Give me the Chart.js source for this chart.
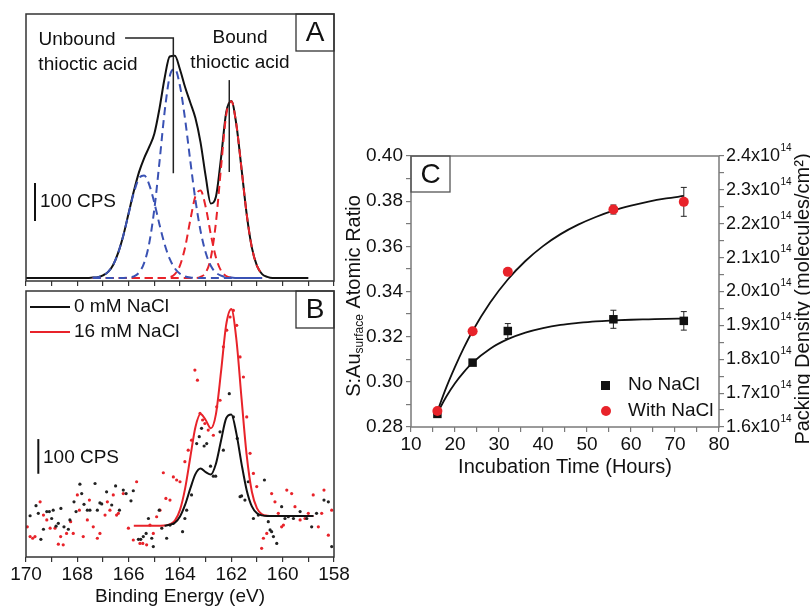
<!DOCTYPE html>
<html>
<head>
<meta charset="utf-8">
<script src="https://cdn.jsdelivr.net/npm/chart.js@4/dist/chart.umd.min.js"></script>
<style>
  html, body { margin: 0; padding: 0; background: #fff; }
  #wrap { position: relative; width: 810px; height: 606px; overflow: hidden; }
  canvas { position: absolute; }
</style>
</head>
<body>
<div id="wrap">
  <canvas id="chart-a" width="345" height="290" style="left:0px;top:0px"></canvas>
  <canvas id="chart-b" width="360" height="322" style="left:0px;top:284px"></canvas>
  <canvas id="chart-c" width="470" height="370" style="left:340px;top:120px"></canvas>
</div>
<script>
// ---- Panel A: S 2p fit components (CPS vs binding energy, eV)
const gridA = [170, 167.8, 167.6, 167.4, 167.2, 167.0, 166.8, 166.6, 166.4, 166.2, 166.0, 165.8, 165.6, 165.4, 165.2, 165.0, 164.8, 164.6, 164.4, 164.2, 164.0, 163.8, 163.6, 163.4, 163.2, 163.0, 162.8, 162.6, 162.4, 162.2, 162.0, 161.8, 161.6, 161.4, 161.2, 161.0, 160.8, 160.6, 160.4, 159.0];
const envelopeA = [0, 0, 0, 1, 2, 7, 16, 35, 68, 114, 171, 228, 278, 315, 345, 380, 446, 526, 583, 585, 549, 502, 462, 421, 357, 268, 196, 214, 317, 436, 466, 402, 286, 167, 80, 32, 10, 3, 0, 0];
const unbound1A = [null, null, null, 1, 2, 7, 16, 35, 68, 114, 170, 224, 262, 270, 246, 198, 141, 89, 50, 25, 11, 4, 1, 0, 0, 0, 0, 0, 0, 0, 0, 0, 0, 0, 0, 0, 0, null, null, null];
const unbound2A = [null, null, null, 0, 0, 0, 0, 0, 0, 0, 1, 4, 14, 39, 91, 181, 305, 437, 531, 550, 505, 417, 309, 206, 124, 67, 32, 14, 6, 2, 1, 0, 0, 0, 0, 0, 0, null, null, null];
const bound1A = [null, null, null, 0, 0, 0, 0, 0, 0, 0, 0, 0, 0, 0, 0, 0, 0, 0, 2, 10, 33, 81, 152, 215, 230, 187, 115, 54, 19, 5, 1, 0, 0, 0, 0, 0, 0, null, null, null];
const bound2A = [null, null, null, 0, 0, 0, 0, 0, 0, 0, 0, 0, 0, 0, 0, 0, 0, 0, 0, 0, 0, 0, 0, 0, 3, 14, 53, 146, 292, 429, 465, 402, 286, 167, 80, 32, 10, null, null, null];
const unboundLeaderX = [166.14, 164.26, 164.26];
const unboundLeaderY = [632, 632, 276];
const boundLeaderX = [162.08, 162.08];
const boundLeaderY = [521, 279];
const scaleBarAX = [169.65, 169.65];
const scaleBarAY = [150, 250];

// ---- Panel B: raw points and fits
const fitGridB = [165.8, 165.4, 165.0, 164.6, 164.4, 164.2, 164.0, 163.8, 163.6, 163.4, 163.2, 163.0, 162.8, 162.6, 162.4, 162.2, 162.0, 161.8, 161.6, 161.4, 161.2, 161.0, 160.8, 160.6, 160.4, 158.8];
const fit16mM = [90, 90, 90, 91, 94, 105, 136, 198, 287, 374, 412, 395, 371, 412, 535, 670, 715, 625, 455, 292, 188, 140, 123, 119, 118, 118];
const fit0mM = [null, null, null, 90, 93, 99, 117, 151, 197, 239, 255, 245, 238, 269, 336, 400, 411, 355, 268, 192, 146, 126, 120, 118, 118, 118];
const raw0mMX = [169.84, 169.61, 169.52, 169.42, 169.32, 169.19, 169.09, 169.00, 168.94, 168.83, 168.74, 168.64, 168.52, 168.35, 168.29, 168.13, 168.05, 167.90, 167.83, 167.74, 167.61, 167.51, 167.31, 167.22, 167.12, 167.05, 166.86, 166.66, 166.51, 166.36, 166.21, 166.10, 165.91, 165.82, 165.62, 165.53, 165.43, 165.32, 165.23, 165.10, 165.04, 164.81, 164.71, 164.52, 164.39, 164.26, 163.90, 163.81, 163.74, 163.55, 163.35, 163.25, 163.16, 163.06, 162.96, 162.81, 162.70, 162.61, 162.44, 162.31, 162.08, 161.92, 161.77, 161.66, 161.60, 161.47, 161.34, 161.14, 160.95, 160.71, 160.56, 160.49, 160.43, 160.36, 160.23, 160.04, 159.91, 159.78, 159.58, 159.32, 159.06, 158.87, 158.68, 158.39, 158.22, 158.09];
const raw0mMY = [119, 148, 126, 51, 80, 131, 131, 111, 135, 89, 97, 140, 87, 80, 107, 159, 131, 210, 183, 152, 135, 135, 212, 135, 156, 153, 188, 150, 205, 135, 193, 183, 162, 191, 51, 51, 59, 68, 111, 54, 30, 135, 83, 54, 92, 97, 73, 111, 135, 179, 327, 347, 371, 320, 327, 262, 233, 233, 361, 308, 471, 404, 342, 174, 176, 164, 217, 111, 121, 222, 102, 78, 73, 59, 39, 145, 111, 116, 111, 131, 111, 87, 126, 164, 159, 30];
const raw16mMX = [169.95, 169.84, 169.74, 169.65, 169.45, 169.32, 169.19, 169.06, 168.87, 168.74, 168.65, 168.55, 168.42, 168.26, 168.16, 168.00, 167.92, 167.77, 167.61, 167.53, 167.38, 167.22, 167.12, 166.92, 166.83, 166.73, 166.60, 166.47, 166.40, 166.21, 166.01, 165.82, 165.69, 165.56, 165.45, 165.30, 165.17, 165.04, 164.91, 164.78, 164.65, 164.55, 164.39, 164.26, 164.13, 164.00, 163.81, 163.68, 163.55, 163.42, 163.32, 163.22, 163.12, 163.03, 162.90, 162.70, 162.57, 162.44, 162.31, 162.18, 162.05, 161.92, 161.79, 161.66, 161.53, 161.40, 161.27, 161.14, 161.01, 160.82, 160.75, 160.62, 160.43, 160.30, 160.17, 160.04, 159.97, 159.84, 159.65, 159.52, 159.32, 159.13, 159.00, 158.81, 158.61, 158.48, 158.39, 158.22, 158.09];
const raw16mMY = [87, 59, 54, 59, 159, 121, 107, 83, 83, 37, 59, 35, 68, 102, 68, 179, 135, 59, 107, 164, 87, 54, 68, 121, 159, 135, 179, 121, 126, 183, 83, 49, 217, 39, 39, 35, 92, 68, 116, 135, 243, 169, 164, 231, 222, 217, 275, 308, 337, 539, 510, 414, 395, 385, 366, 351, 433, 452, 606, 654, 692, 711, 668, 577, 519, 404, 299, 241, 203, 25, 54, 68, 183, 159, 126, 87, 92, 193, 183, 145, 107, 111, 126, 179, 87, 126, 193, 63, 135];
const scaleBarBX = [169.52, 169.52];
const scaleBarBY = [240, 340];

// ---- Panel C: S:Au ratio vs incubation time
const timeC = [16, 24, 32, 56, 72];
const noNaCl = [0.2858, 0.3085, 0.3225, 0.3277, 0.3270];
const noNaClErr = [0.0005, 0.001, 0.0033, 0.004, 0.0041];
const withNaCl = [0.2871, 0.3224, 0.3487, 0.3763, 0.3797];
const withNaClErr = [0.0005, 0.0008, 0.0015, 0.002, 0.0064];
const fitTime = [16, 18, 20, 22, 24, 28, 32, 36, 40, 44, 48, 52, 56, 60, 64, 68, 72];
const fitNoNaCl = [0.2862, 0.2934, 0.2994, 0.3043, 0.3085, 0.3147, 0.3189, 0.3218, 0.3238, 0.3252, 0.3261, 0.3268, 0.3272, 0.3275, 0.3277, 0.3279, 0.3280];
const fitWithNaCl = [0.2870, 0.2974, 0.3066, 0.3150, 0.3225, 0.3351, 0.3453, 0.3535, 0.3601, 0.3654, 0.3696, 0.3730, 0.3758, 0.3780, 0.3798, 0.3812, 0.3823];

const FONT = "'Liberation Sans', Arial, Helvetica, sans-serif";
const RED = '#e8232a';
const BLUE = '#3a52b4';
const INK = '#111';
const AXIS_AB = '#333';
const AXIS_C = '#7a7a7a';

Chart.defaults.font.family = FONT;
Chart.defaults.color = INK;

const toXY = (xs, ys) => xs.map((x, i) => ({ x, y: ys[i] }));

function text(ctx, str, x, y, size, align) {
  ctx.font = size + 'px ' + FONT;
  ctx.textAlign = align || 'left';
  ctx.textBaseline = 'middle';
  ctx.fillStyle = INK;
  ctx.fillText(str, x, y);
}

function boxLabel(ctx, str, x, y, w, h, color) {
  ctx.strokeStyle = color;
  ctx.lineWidth = 1.3;
  ctx.strokeRect(x, y, w, h);
  text(ctx, str, x + w / 2, y + h / 2 + 1, 28, 'center');
}

function frame(chart, color) {
  const ca = chart.chartArea;
  const ctx = chart.ctx;
  ctx.strokeStyle = color;
  ctx.lineWidth = 1.5;
  ctx.strokeRect(ca.left, ca.top, ca.right - ca.left, ca.bottom - ca.top);
}

function baseOptions(padding) {
  return {
    responsive: false,
    animation: false,
    events: [],
    layout: { autoPadding: false, padding },
    plugins: { legend: { display: false }, tooltip: { enabled: false } },
    elements: {
      point: { radius: 0 },
      line: { borderWidth: 2, cubicInterpolationMode: 'monotone' }
    }
  };
}

// ---------------- Panel A
const panelA = {
  id: 'panelA',
  afterDraw(chart) {
    const ctx = chart.ctx;
    ctx.save();
    frame(chart, AXIS_AB);
    boxLabel(ctx, 'A', 296, 14, 38, 37, AXIS_AB);
    text(ctx, 'Unbound', 77, 40, 19, 'center');
    text(ctx, 'thioctic acid', 88, 65, 19, 'center');
    text(ctx, 'Bound', 240, 38, 19, 'center');
    text(ctx, 'thioctic acid', 240, 63, 19, 'center');
    text(ctx, '100 CPS', 40, 202, 19, 'left');
    ctx.restore();
  }
};

const optsA = baseOptions({ left: 26, top: 14, right: 11, bottom: 0 });
optsA.scales = {
  x: {
    type: 'linear', reverse: true, min: 158, max: 170,
    afterFit: s => { s.height = 9; },
    ticks: { display: false, stepSize: 1, autoSkip: false },
    grid: { drawOnChartArea: false, tickLength: 5, color: AXIS_AB, lineWidth: 1.2 },
    border: { display: false }
  },
  y: { display: false, min: -8, max: 695 }
};

new Chart(document.getElementById('chart-a'), {
  type: 'line',
  data: {
    datasets: [
      { data: toXY(gridA, unbound1A), borderColor: BLUE, borderDash: [8, 5], order: 1 },
      { data: toXY(gridA, unbound2A), borderColor: BLUE, borderDash: [8, 5], order: 1 },
      { data: toXY(gridA, bound1A), borderColor: RED, borderDash: [8, 5], order: 1 },
      { data: toXY(gridA, bound2A), borderColor: RED, borderDash: [8, 5], order: 1 },
      { data: toXY(gridA, envelopeA), borderColor: INK, order: 2 },
      { data: toXY(unboundLeaderX, unboundLeaderY), borderColor: '#222', borderWidth: 1.5, tension: 0, order: 0 },
      { data: toXY(boundLeaderX, boundLeaderY), borderColor: '#222', borderWidth: 1.5, tension: 0, order: 0 },
      { data: toXY(scaleBarAX, scaleBarAY), borderColor: INK, borderWidth: 2, tension: 0, order: 0 }
    ]
  },
  options: optsA,
  plugins: [panelA]
});

// ---------------- Panel B
const panelB = {
  id: 'panelB',
  afterDraw(chart) {
    const ctx = chart.ctx;
    ctx.save();
    frame(chart, AXIS_AB);
    boxLabel(ctx, 'B', 296, 7, 38, 37, AXIS_AB);
    ctx.lineWidth = 2;
    ctx.strokeStyle = INK;
    ctx.beginPath(); ctx.moveTo(30, 23); ctx.lineTo(70, 23); ctx.stroke();
    ctx.strokeStyle = RED;
    ctx.beginPath(); ctx.moveTo(30, 48); ctx.lineTo(70, 48); ctx.stroke();
    text(ctx, '0 mM NaCl', 74, 23, 19, 'left');
    text(ctx, '16 mM NaCl', 74, 48, 19, 'left');
    text(ctx, '100 CPS', 43, 174, 19, 'left');
    ctx.restore();
  }
};

const optsB = baseOptions({ left: 26, top: 7, right: 26, bottom: 0 });
optsB.scales = {
  x: {
    type: 'linear', reverse: true, min: 158, max: 170,
    afterFit: s => { s.height = 49; },
    ticks: {
      stepSize: 1, autoSkip: false, maxRotation: 0, padding: 1,
      font: { size: 19 }, color: INK,
      callback: v => (Math.round(v) % 2 === 0 ? String(Math.round(v)) : '')
    },
    grid: { drawOnChartArea: false, tickLength: 5, color: AXIS_AB, lineWidth: 1.2 },
    border: { display: false },
    title: { display: true, text: 'Binding Energy (eV)', font: { size: 19, lineHeight: 1 }, padding: 0, color: INK }
  },
  y: { display: false, min: 0, max: 767 }
};

new Chart(document.getElementById('chart-b'), {
  type: 'line',
  data: {
    datasets: [
      { data: toXY(raw0mMX, raw0mMY), showLine: false, pointRadius: 1.6, pointBackgroundColor: '#222', pointBorderWidth: 0, order: 3 },
      { data: toXY(raw16mMX, raw16mMY), showLine: false, pointRadius: 1.6, pointBackgroundColor: RED, pointBorderWidth: 0, order: 3 },
      { data: toXY(fitGridB, fit16mM), borderColor: RED, order: 2 },
      { data: toXY(fitGridB, fit0mM), borderColor: INK, order: 1 },
      { data: toXY(scaleBarBX, scaleBarBY), borderColor: INK, borderWidth: 2, tension: 0, order: 0 }
    ]
  },
  options: optsB,
  plugins: [panelB]
});

// ---------------- Panel C
const RIGHT_LABEL = 18;

const panelC = {
  id: 'panelC',
  beforeDatasetsDraw(chart) {
    const { ctx, scales } = chart;
    const x = scales.x, y = scales.y;
    ctx.save();
    ctx.strokeStyle = '#222';
    ctx.lineWidth = 1;
    const bars = (vals, errs) => vals.forEach((v, i) => {
      const px = x.getPixelForValue(timeC[i]);
      const top = y.getPixelForValue(v + errs[i]);
      const bot = y.getPixelForValue(v - errs[i]);
      ctx.beginPath();
      ctx.moveTo(px, top); ctx.lineTo(px, bot);
      ctx.moveTo(px - 3, top); ctx.lineTo(px + 3, top);
      ctx.moveTo(px - 3, bot); ctx.lineTo(px + 3, bot);
      ctx.stroke();
    });
    bars(noNaCl, noNaClErr);
    bars(withNaCl, withNaClErr);
    ctx.restore();
  },
  afterDraw(chart) {
    const { ctx, scales } = chart;
    ctx.save();
    frame(chart, AXIS_C);
    const ca = chart.chartArea;
    boxLabel(ctx, 'C', ca.left, ca.top, 39, 36, '#555');

    // legend
    ctx.fillStyle = INK;
    ctx.fillRect(261, 261, 9, 9);
    ctx.fillStyle = RED;
    ctx.beginPath(); ctx.arc(266, 291, 5, 0, Math.PI * 2); ctx.fill();
    text(ctx, 'No NaCl', 288, 265, 19, 'left');
    text(ctx, 'With NaCl', 288, 291, 19, 'left');

    // exponents on the right axis labels
    const y2 = scales.y2;
    y2.ticks.forEach(t => {
      const lbl = y2.options.ticks.callback(t.value);
      if (!lbl) return;
      ctx.font = RIGHT_LABEL + 'px ' + FONT;
      const w = ctx.measureText(lbl).width;
      const py = y2.getPixelForValue(t.value);
      text(ctx, '14', y2.left + 7 + w + 0.5, py - 8, 10, 'left');
    });

    // left title with subscript
    ctx.save();
    ctx.translate(14, 176);
    ctx.rotate(-Math.PI / 2);
    ctx.font = '20px ' + FONT;
    const w1 = ctx.measureText('S:Au').width;
    const w3 = ctx.measureText(' Atomic Ratio').width;
    ctx.font = '12px ' + FONT;
    const w2 = ctx.measureText('surface').width;
    const sx = -(w1 + w2 + w3) / 2;
    text(ctx, 'S:Au', sx, 0, 20, 'left');
    text(ctx, 'surface', sx + w1, 6, 12, 'left');
    text(ctx, ' Atomic Ratio', sx + w1 + w2, 0, 20, 'left');
    ctx.restore();

    // right title
    ctx.save();
    ctx.translate(463, 179);
    ctx.rotate(-Math.PI / 2);
    text(ctx, 'Packing Density (molecules/cm\u00B2)', 0, 0, 20, 'center');
    ctx.restore();
    ctx.restore();
  }
};

const optsC = baseOptions({ left: 0, top: 36, right: 0, bottom: 0 });
optsC.scales = {
  x: {
    type: 'linear', min: 10, max: 80,
    afterFit: s => { s.height = 63; },
    ticks: {
      stepSize: 5, autoSkip: false, maxRotation: 0, padding: 1,
      font: { size: 19 }, color: INK,
      callback: v => (Math.round(v) % 10 === 0 ? String(Math.round(v)) : '')
    },
    grid: { drawOnChartArea: false, tickLength: 5, color: AXIS_C, lineWidth: 1.2 },
    border: { display: false },
    title: { display: true, text: 'Incubation Time (Hours)', font: { size: 20, lineHeight: 1.2 }, padding: { top: 0, bottom: 11 }, color: INK }
  },
  y: {
    position: 'left', min: 0.28, max: 0.40,
    afterFit: s => { s.width = 71; },
    ticks: {
      stepSize: 0.01, autoSkip: false, padding: 3,
      font: { size: 19 }, color: INK,
      callback: v => (Math.round(v * 100) % 2 === 0 ? v.toFixed(2) : '')
    },
    grid: { drawOnChartArea: false, tickLength: 5, color: AXIS_C, lineWidth: 1.2 },
    border: { display: false }
  },
  y2: {
    position: 'right', min: 1.6, max: 2.4,
    afterFit: s => { s.width = 91; },
    ticks: {
      stepSize: 0.05, autoSkip: false, padding: 2,
      font: { size: RIGHT_LABEL }, color: INK,
      callback: v => (Math.round(v * 100) % 10 === 0 ? v.toFixed(1) + 'x10' : '')
    },
    grid: { drawOnChartArea: false, tickLength: 5, color: AXIS_C, lineWidth: 1.2 },
    border: { display: false }
  }
};

new Chart(document.getElementById('chart-c'), {
  type: 'line',
  data: {
    datasets: [
      { data: toXY(timeC, withNaCl), showLine: false, pointStyle: 'circle', pointRadius: 5, pointBackgroundColor: RED, pointBorderWidth: 0, order: 0 },
      { data: toXY(timeC, noNaCl), showLine: false, pointStyle: 'rect', pointRadius: 6, pointBackgroundColor: INK, pointBorderWidth: 0, order: 1 },
      { data: toXY(fitTime, fitWithNaCl), borderColor: INK, borderWidth: 1.8, order: 2 },
      { data: toXY(fitTime, fitNoNaCl), borderColor: INK, borderWidth: 1.8, order: 2 }
    ]
  },
  options: optsC,
  plugins: [panelC]
});
</script>
</body>
</html>
